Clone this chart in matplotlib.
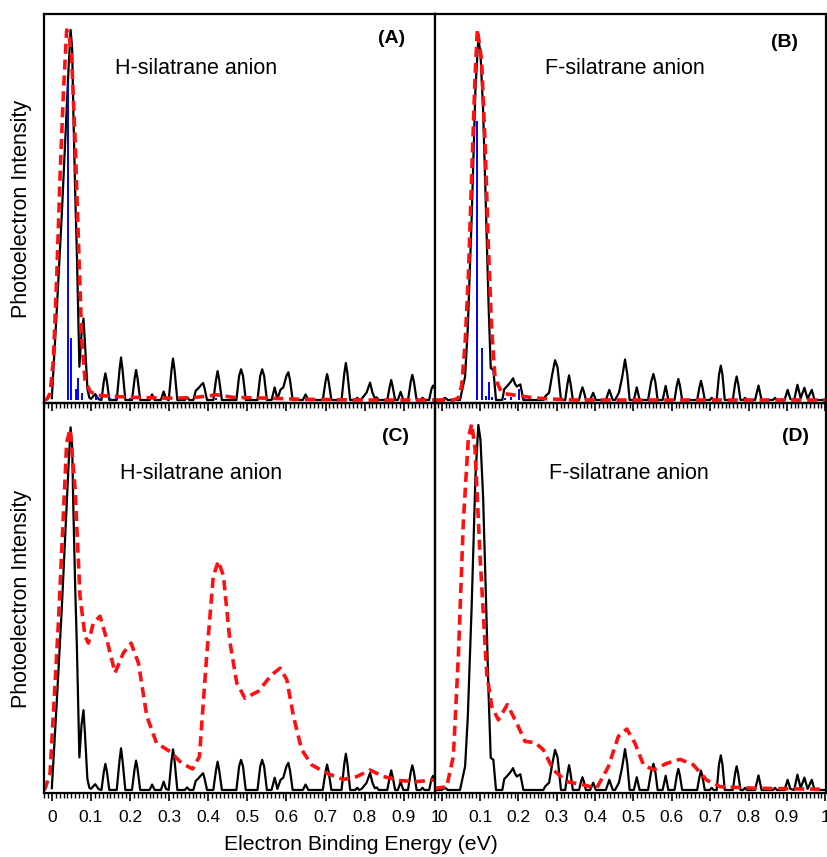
import matplotlib
matplotlib.use("Agg")
import matplotlib.pyplot as plt
from matplotlib.ticker import FixedLocator, MultipleLocator

plt.rcParams['font.family'] = ['Liberation Sans', 'DejaVu Sans']

# ---------------- data ----------------
# Experimental spectrum, H-silatrane anion (normalised, main peak = 1)
h_exp_x = [0.000, 0.012, 0.025, 0.036, 0.043, 0.048, 0.052, 0.055, 0.060, 0.064, 0.0705, 0.076, 0.081, 0.085, 0.091, 0.096,
           0.100, 0.111, 0.120,
           0.127, 0.133, 0.137, 0.141, 0.147,
           0.166, 0.173, 0.177, 0.181, 0.188,
           0.205, 0.212, 0.2155, 0.219, 0.226,
           0.250, 0.2565, 0.263,
           0.279, 0.286, 0.292,
           0.299, 0.306, 0.310, 0.314, 0.321,
           0.340, 0.346, 0.352,
           0.362, 0.368, 0.375, 0.383, 0.387, 0.391, 0.397,
           0.413, 0.420, 0.424, 0.428, 0.435,
           0.472, 0.479, 0.484, 0.489, 0.496,
           0.526, 0.533, 0.538, 0.543, 0.550,
           0.562, 0.570, 0.577, 0.585, 0.592, 0.600, 0.605, 0.609, 0.616,
           0.642, 0.649, 0.656,
           0.693, 0.700, 0.704, 0.708, 0.715,
           0.741, 0.748, 0.752, 0.756, 0.763,
           0.776, 0.781, 0.786, 0.792, 0.797, 0.805, 0.814, 0.820, 0.826, 0.831, 0.836,
           0.858, 0.864, 0.868, 0.872, 0.878,
           0.885, 0.892, 0.899,
           0.911, 0.918, 0.922, 0.926, 0.933,
           0.943, 0.948, 0.953,
           0.965, 0.971, 0.975, 0.980]
h_exp_y = [0.005, 0.23, 0.49, 0.74, 0.90, 1.000, 0.95, 0.78, 0.55, 0.40, 0.09, 0.18, 0.22, 0.15, 0.03, 0.006,
           0.003, 0.016, 0.002,
           0.0, 0.05, 0.072, 0.05, 0.0,
           0.0, 0.08, 0.115, 0.08, 0.0,
           0.0, 0.06, 0.081, 0.06, 0.0,
           0.0, 0.015, 0.0,
           0.0, 0.023, 0.003,
           0.0, 0.08, 0.112, 0.08, 0.0,
           0.0, 0.007, 0.0,
           0.0, 0.025, 0.032, 0.042, 0.046, 0.03, 0.0,
           0.0, 0.055, 0.078, 0.055, 0.0,
           0.0, 0.065, 0.083, 0.065, 0.0,
           0.0, 0.065, 0.083, 0.065, 0.0,
           0.0, 0.034, 0.003, 0.028, 0.034, 0.065, 0.075, 0.055, 0.0,
           0.0, 0.015, 0.0,
           0.0, 0.05, 0.07, 0.05, 0.0,
           0.0, 0.072, 0.10, 0.072, 0.0,
           0.0, 0.006, 0.0, 0.003, 0.009, 0.02, 0.047, 0.02, 0.005, 0.007, 0.0,
           0.0, 0.035, 0.054, 0.035, 0.0,
           0.0, 0.022, 0.0,
           0.0, 0.05, 0.068, 0.05, 0.0,
           0.0, 0.006, 0.0,
           0.0, 0.03, 0.039, 0.03]

# Experimental spectrum, F-silatrane anion (normalised, main peak = 1)
f_exp_x = [-0.0175, 0.000, 0.0086, 0.016, 0.0477,
           0.061, 0.068, 0.078, 0.088, 0.0955, 0.101, 0.108, 0.115, 0.122, 0.1278, 0.1346, 0.1416,
           0.158, 0.163, 0.172, 0.180, 0.186, 0.191, 0.196, 0.200, 0.205, 0.213,
           0.265, 0.270, 0.280, 0.288, 0.2955, 0.302, 0.307, 0.311,
           0.322, 0.328, 0.332, 0.336, 0.342,
           0.358, 0.363, 0.367, 0.371, 0.376,
           0.387, 0.395, 0.402,
           0.428, 0.437, 0.446,
           0.452, 0.462, 0.470, 0.478, 0.484, 0.490,
           0.501, 0.5086, 0.516,
           0.538, 0.546, 0.552, 0.557, 0.563,
           0.576, 0.584, 0.591,
           0.607, 0.613, 0.617, 0.621, 0.627,
           0.666, 0.672, 0.676, 0.680, 0.686,
           0.699, 0.704, 0.709,
           0.717, 0.723, 0.7277, 0.732, 0.738,
           0.759, 0.765, 0.769, 0.773, 0.779,
           0.786, 0.791, 0.796,
           0.817, 0.826, 0.834,
           0.864, 0.869, 0.874,
           0.894, 0.902, 0.909, 0.919, 0.9275, 0.936, 0.9457, 0.954, 0.965, 0.972,
           1.002]
f_exp_y = [0.0, 0.0, 0.006, 0.0, 0.0,
           0.065, 0.20, 0.50, 0.86, 1.000, 0.96, 0.80, 0.54, 0.27, 0.088, 0.083, 0.0,
           0.0, 0.03, 0.04, 0.05, 0.06, 0.045, 0.037, 0.04, 0.043, 0.0,
           0.0, 0.01, 0.02, 0.07, 0.11, 0.09, 0.04, 0.0,
           0.0, 0.045, 0.068, 0.045, 0.0,
           0.0, 0.022, 0.035, 0.022, 0.0,
           0.0, 0.02, 0.0,
           0.0, 0.028, 0.0,
           0.0, 0.02, 0.06, 0.112, 0.07, 0.0,
           0.0, 0.035, 0.0,
           0.0, 0.05, 0.072, 0.05, 0.0,
           0.0, 0.039, 0.0,
           0.0, 0.04, 0.058, 0.04, 0.0,
           0.0, 0.035, 0.053, 0.035, 0.0,
           0.0, 0.006, 0.0,
           0.0, 0.07, 0.095, 0.07, 0.0,
           0.0, 0.045, 0.065, 0.045, 0.0,
           0.0, 0.006, 0.0,
           0.0, 0.04, 0.0,
           0.0, 0.006, 0.0,
           0.0, 0.028, 0.003, 0.0, 0.042, 0.005, 0.034, 0.003, 0.028, 0.0,
           0.0]

# Simulated spectra (narrow), panels A and B
h_simA_x = [-0.020, -0.012, -0.0045, 0.004, 0.0126, 0.021, 0.0296, 0.038, 0.045, 0.051, 0.0595, 0.068, 0.0766, 0.085,
            0.098, 0.115, 0.15, 0.21, 0.294, 0.36, 0.422, 0.465, 0.55, 0.635, 0.80, 0.98]
h_simA_y = [0.0, 0.003, 0.018, 0.108, 0.333, 0.604, 0.829, 1.000, 0.98, 0.92, 0.703, 0.432, 0.162, 0.054,
            0.023, 0.013, 0.01, 0.007, 0.005, 0.006, 0.014, 0.007, 0.005, 0.002, 0.0, 0.0]
f_simB_x = [-0.0175, 0.030, 0.043, 0.052, 0.061, 0.0694, 0.078, 0.0868, 0.0929, 0.104, 0.113, 0.1216, 0.130, 0.139,
            0.152, 0.161, 0.200, 0.239, 0.280, 0.350, 1.002]
f_simB_y = [0.0, 0.0, 0.005, 0.04, 0.157, 0.34, 0.617, 0.89, 1.025, 0.94, 0.71, 0.43, 0.20, 0.062,
            0.03, 0.018, 0.012, 0.006, 0.003, 0.0, 0.0]

# Stick spectra (Franck-Condon factors), panels A and B
h_stick_x = [0.0407, 0.050, 0.062, 0.068, 0.0766, 0.113, 0.125, 0.150, 0.165, 0.200, 0.420]
h_stick_y = [0.86, 0.167, 0.03, 0.059, 0.02, 0.012, 0.006, 0.006, 0.008, 0.005, 0.006]
f_stick_x = [0.0912, 0.1043, 0.1147, 0.1234, 0.132, 0.165, 0.180, 0.2015, 0.215]
f_stick_y = [0.77, 0.143, 0.01, 0.05, 0.008, 0.006, 0.008, 0.03, 0.005]

# Simulated spectra (broad), panels C and D
h_simC_x = [-0.020, -0.017, -0.0045, 0.0168, 0.038, 0.0467, 0.0595, 0.072, 0.085, 0.0935, 0.106, 0.1234, 0.1405,
            0.1618, 0.183, 0.2027, 0.2215, 0.243, 0.268, 0.3024, 0.332, 0.360, 0.3775, 0.396, 0.413, 0.426,
            0.439, 0.456, 0.473, 0.494, 0.528, 0.5625, 0.584, 0.601, 0.618, 0.639, 0.665, 0.703, 0.746,
            0.780, 0.814, 0.848, 0.890, 0.933, 0.980]
h_simC_y = [0.0, 0.005, 0.046, 0.46, 0.958, 0.995, 0.83, 0.535, 0.424, 0.405, 0.46, 0.479, 0.415,
            0.323, 0.378, 0.405, 0.35, 0.203, 0.129, 0.106, 0.074, 0.058, 0.092, 0.369, 0.59, 0.631,
            0.59, 0.405, 0.295, 0.253, 0.272, 0.318, 0.336, 0.304, 0.203, 0.111, 0.069, 0.046, 0.029,
            0.037, 0.055, 0.037, 0.026, 0.023, 0.028]
f_simD_x = [-0.0175, -0.013, 0.013, 0.0303, 0.0434, 0.0563, 0.0694, 0.0782, 0.0869, 0.0999, 0.1173, 0.1304, 0.1477,
            0.1711, 0.1956, 0.2173, 0.2434, 0.265, 0.291, 0.326, 0.369, 0.404, 0.4346, 0.4606, 0.4825, 0.504,
            0.526, 0.552, 0.587, 0.6215, 0.656, 0.691, 0.726, 0.813, 0.987, 1.002]
f_simD_y = [0.003, 0.005, 0.009, 0.092, 0.366, 0.733, 0.962, 1.003, 0.934, 0.641, 0.32, 0.229, 0.192,
            0.234, 0.183, 0.133, 0.13, 0.11, 0.055, 0.023, 0.014, 0.005, 0.064, 0.147, 0.167, 0.128,
            0.069, 0.055, 0.073, 0.084, 0.069, 0.027, 0.009, 0.005, 0.002, 0.002]

panel_letters = ["(A)", "(B)", "(C)", "(D)"]
panel_names = ["H-silatrane anion", "F-silatrane anion", "H-silatrane anion", "F-silatrane anion"]
left_ticks = [0.0, 0.1, 0.2, 0.3, 0.4, 0.5, 0.6, 0.7, 0.8, 0.9, 0.98]
left_labels = ["0", "0.1", "0.2", "0.3", "0.4", "0.5", "0.6", "0.7", "0.8", "0.9", "1"]
right_ticks = [0.0, 0.1, 0.2, 0.3, 0.4, 0.5, 0.6, 0.7, 0.8, 0.9, 1.0]
right_labels = ["0", "0.1", "0.2", "0.3", "0.4", "0.5", "0.6", "0.7", "0.8", "0.9", "1"]

# ---------------- figure ----------------
W, H = 827, 857
fig = plt.figure(figsize=(W / 100, H / 100), dpi=100)

def box(x0, x1, ytop, ybot):
    return [x0 / W, (H - ybot) / H, (x1 - x0) / W, (ybot - ytop) / H]

axA = fig.add_axes(box(44, 435, 14, 403))
axB = fig.add_axes(box(435, 826, 14, 403))
axC = fig.add_axes(box(44, 435, 403, 793))
axD = fig.add_axes(box(435, 826, 403, 793))
# lower panels transparent so the upper panels' outward ticks remain visible
axC.patch.set_visible(False)
axD.patch.set_visible(False)

black_kw = dict(color="black", lw=1.6, solid_joinstyle="round")
red_kw = dict(color="#ff1010", lw=2.6, ls=(0, (2.8, 1.6)))
blue_kw = dict(color="#0000ff", lw=1.4)

axA.plot(h_exp_x, h_exp_y, **black_kw)
axA.vlines(h_stick_x, 0, h_stick_y, **blue_kw)
axA.plot(h_simA_x, h_simA_y, **red_kw)

axB.plot(f_exp_x, f_exp_y, **black_kw)
axB.vlines(f_stick_x, 0, f_stick_y, **blue_kw)
axB.plot(f_simB_x, f_simB_y, **red_kw)

axC.plot(h_exp_x, h_exp_y, **black_kw)
axC.plot(h_simC_x, h_simC_y, **red_kw)

axD.plot(f_exp_x, f_exp_y, **black_kw)
axD.plot(f_simD_x, f_simD_y, **red_kw)

axA.set_xlim(-0.02, 0.98); axC.set_xlim(-0.02, 0.98)
axB.set_xlim(-0.0175, 1.002); axD.set_xlim(-0.0175, 1.002)
axA.set_ylim(-0.0081, 1.043)
axB.set_ylim(-0.0083, 1.067)
axC.set_ylim(-0.0083, 1.067)
axD.set_ylim(-0.0082, 1.06)

for ax in (axA, axB, axC, axD):
    for s in ax.spines.values():
        s.set_linewidth(1.6)
    ax.set_yticks([])
    ax.xaxis.set_minor_locator(MultipleLocator(0.01))
    ax.tick_params(axis="x", which="major", length=6, width=1.2, labelsize=12.5, pad=6)
    ax.tick_params(axis="x", which="minor", length=3.5, width=1.0)

for ax in (axA, axC):
    ax.xaxis.set_major_locator(FixedLocator(left_ticks))
    ax.set_xticklabels(left_labels)
for ax in (axB, axD):
    ax.xaxis.set_major_locator(FixedLocator(right_ticks))
    ax.set_xticklabels(right_labels)

for ax in (axA, axB):
    ax.tick_params(axis="x", which="both", direction="out", labelbottom=False)
for ax in (axC, axD):
    ax.tick_params(axis="x", which="both", direction="out", labelbottom=True)

# panel texts (axes-fraction placement)
name_pos = [(0.1816, 0.861), (0.281, 0.861), (0.194, 0.8205), (0.2916, 0.8205)]
letter_pos = [(0.889, 0.936), (0.894, 0.928), (0.900, 0.913), (0.921, 0.913)]
for ax, nm, lt, npos, lpos in zip((axA, axB, axC, axD), panel_names, panel_letters, name_pos, letter_pos):
    ax.text(npos[0], npos[1], nm, transform=ax.transAxes, ha="left", va="center", fontsize=15.5)
    ax.text(lpos[0], lpos[1], lt, transform=ax.transAxes, ha="center", va="center", fontsize=14, fontweight="bold")

fig.text(22 / W, 1 - 209 / H, "Photoelectron Intensity", rotation=90, ha="center", va="center", fontsize=15.5)
fig.text(22 / W, 1 - 599 / H, "Photoelectron Intensity", rotation=90, ha="center", va="center", fontsize=15.5)
fig.text(361 / W, 1 - 845 / H, "Electron Binding Energy (eV)", ha="center", va="center", fontsize=15.3)

fig.savefig("out.png", dpi=100)
